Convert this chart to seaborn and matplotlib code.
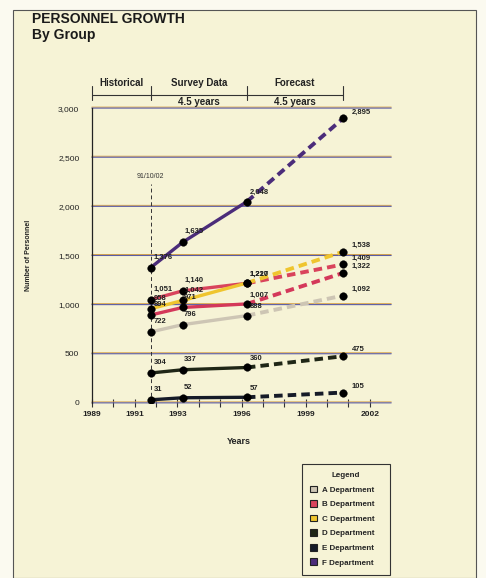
"""
Personnel growth by group: historical, survey and forecast periods.
"""

import matplotlib.pyplot as plt
import pandas as pd
import seaborn as sns
from matplotlib.patches import Patch, Rectangle

# time points: start of survey, mid survey, end of survey, end of forecast
years = [1991.75, 1993.25, 1996.25, 2000.75]

dept_a = [722, 796, 888, 1092]
dept_b = [1051, 1140, 1217, 1409]
dept_b2 = [894, 971, 1007, 1322]
dept_c = [958, 1042, 1220, 1538]
dept_d = [304, 337, 360, 475]
dept_e = [31, 52, 57, 105]
dept_f = [1376, 1635, 2048, 2895]

legend_labels = ["A Department", "B Department", "C Department",
                 "D Department", "E Department", "F Department"]
y_ticks = [0, 500, 1000, 1500, 2000, 2500, 3000]
x_tick_labels = [1989, 1991, 1993, 1996, 1999, 2002]

BG = "#f6f3d6"
colors = {
    "A": "#cdc5b4",
    "B": "#d9435c",
    "B2": "#d4385a",
    "C": "#efc52e",
    "D": "#1f2616",
    "E": "#161b28",
    "F": "#4b2c7a",
}
series = {"A": dept_a, "B": dept_b, "B2": dept_b2, "C": dept_c,
          "D": dept_d, "E": dept_e, "F": dept_f}


def main() -> None:
    sns.set_theme(style="white")
    plt.rcParams["font.family"] = ["Liberation Sans", "DejaVu Sans"]

    fig = plt.figure(figsize=(4.86, 5.78), dpi=100)
    fig.patch.set_facecolor("#fbfaf0")
    fig.patches.append(Rectangle((0.027, 0.0), 0.953, 0.983, transform=fig.transFigure,
                                 facecolor=BG, edgecolor="#555555", lw=0.8, zorder=-1))

    ax = fig.add_axes([0.189, 0.303, 0.616, 0.510])
    ax.set_facecolor(BG)
    ax.patch.set_alpha(0)

    rows = []
    for key, vals in series.items():
        for i, (yr, v) in enumerate(zip(years, vals)):
            rows.append({"dept": key, "year": yr, "value": v, "idx": i})
    df = pd.DataFrame(rows)

    # grid lines (misregistered print look: orange fringe over blue)
    for t in y_ticks:
        ax.axhline(t + 10, color="#d9a54a", lw=0.7, clip_on=False, zorder=1,
                   snap=False)
        ax.axhline(t, color="#5b5ca6", lw=0.8, clip_on=False, zorder=1,
                   snap=False)

    for key in series:
        sub = df[df["dept"] == key]
        solid = sub[sub["idx"] <= 2]
        fore = sub[sub["idx"] >= 2]
        sns.lineplot(data=solid, x="year", y="value", color=colors[key], lw=2.4,
                     ax=ax, zorder=3, legend=False, sort=False)
        sns.lineplot(data=fore, x="year", y="value", color=colors[key], lw=2.8,
                     linestyle=(0, (2.2, 1.3)), ax=ax, zorder=3, legend=False, sort=False)

    sns.scatterplot(data=df, x="year", y="value", color="black", s=30, ax=ax,
                    zorder=5, edgecolor="black", linewidth=0.3, legend=False)

    offsets = [(2, 5), (1, 5), (2, 4), (6, 2)]
    for _, r in df.iterrows():
        dx, dy = offsets[int(r["idx"])]
        ax.annotate(f"{int(r['value']):,}", (r["year"], r["value"]),
                    xytext=(dx, dy), textcoords="offset points", fontsize=5.5,
                    fontweight="bold", color="#222222", ha="left", va="bottom",
                    zorder=6)

    # survey start marker
    ax.plot([years[0], years[0]], [0, 2230], color="#333333", lw=0.7,
            linestyle=(0, (4, 3)), zorder=2)
    ax.text(years[0], 2270, "91/10/02", fontsize=5, color="#333333",
            ha="center", va="bottom")

    ax.set_xlim(1989, 2003)
    ax.set_ylim(0, 3000)
    ax.set_yticks(y_ticks)
    ax.set_yticklabels([f"{t:,}" for t in y_ticks], fontsize=6, color="#222222")
    ax.set_xticks(x_tick_labels)
    ax.set_xticklabels([str(t) for t in x_tick_labels], fontsize=6,
                       fontweight="bold", color="#222222")
    ax.set_xticks(range(1989, 2003), minor=True)
    ax.tick_params(axis="y", length=0, pad=9)
    ax.tick_params(axis="x", which="both", direction="inout", length=6,
                   width=0.8, color="#333333", pad=3, bottom=True)

    for side in ["top", "right"]:
        ax.spines[side].set_visible(False)
    ax.spines["left"].set_color("#222222")
    ax.spines["left"].set_linewidth(0.9)
    ax.spines["bottom"].set_visible(False)

    ax.set_xlabel("Years", fontsize=6.5, fontweight="bold", color="#222222")
    ax.xaxis.set_label_coords(0.49, -0.115)
    ax.set_ylabel("Number of Personnel", fontsize=5, fontweight="bold",
                  color="#222222")
    ax.yaxis.set_label_coords(-0.2, 0.5)

    # period header
    tr = ax.get_xaxis_transform()
    bounds = [1989, years[0], years[2], years[3]]
    ax.plot([bounds[0], bounds[-1]], [1.044, 1.044], color="#333333", lw=0.8,
            transform=tr, clip_on=False)
    for b in bounds:
        ax.plot([b, b], [1.027, 1.075], color="#333333", lw=0.8,
                transform=tr, clip_on=False)
    heads = ["Historical", "Survey Data", "Forecast"]
    for i, h in enumerate(heads):
        mid = (bounds[i] + bounds[i + 1]) / 2
        ax.text(mid, 1.085, h, transform=tr, fontsize=7, fontweight="bold",
                color="#222222", ha="center", va="center")
        if i > 0:
            ax.text(mid, 1.022, "4.5 years", transform=tr, fontsize=7,
                    fontweight="bold", color="#222222", ha="center", va="center")

    fig.text(0.066, 0.967, "PERSONNEL GROWTH", fontsize=10, fontweight="bold",
             color="#1a1a1a", va="center")
    fig.text(0.066, 0.940, "By Group", fontsize=10, fontweight="bold",
             color="#1a1a1a", va="center")

    keys = ["A", "B", "C", "D", "E", "F"]
    handles = [Patch(facecolor=colors[k], edgecolor="#222222", lw=0.8) for k in keys]
    leg = fig.legend(handles, legend_labels, title="Legend", loc="upper left",
                     bbox_to_anchor=(0.621, 0.0, 0.181, 0.197), mode="expand",
                     fontsize=5.8, title_fontsize=5.8,
                     frameon=True, fancybox=False, edgecolor="#333333",
                     facecolor=BG, framealpha=1, handlelength=0.9,
                     handleheight=0.9, labelspacing=0.8, borderpad=1.0,
                     handletextpad=0.6, borderaxespad=0)
    leg.get_title().set_fontweight("bold")
    for t in leg.get_texts():
        t.set_fontweight("bold")
    leg.get_frame().set_linewidth(0.8)

    fig.savefig("out.png", dpi=100, facecolor=fig.get_facecolor())
    plt.close(fig)


if __name__ == "__main__":
    main()
